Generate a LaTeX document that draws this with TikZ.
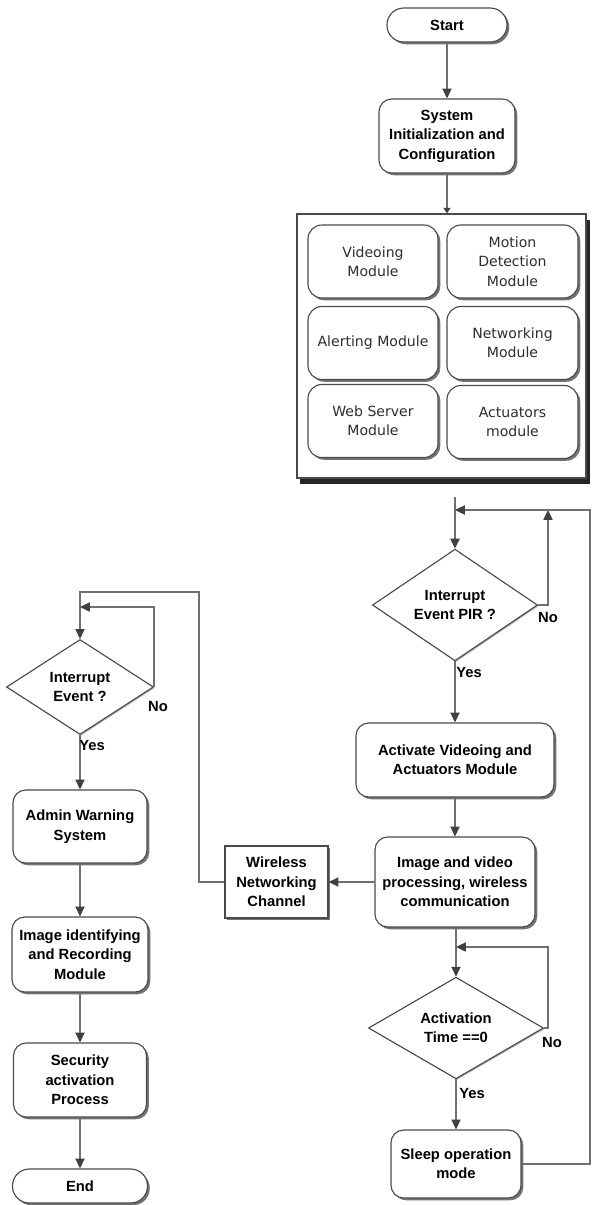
\documentclass[tikz,border=0pt]{standalone}
\usepackage{fontspec}
\setmainfont{Liberation Sans}
\newfontfamily\modfont{DejaVu Sans}
\usetikzlibrary{shapes.geometric,arrows.meta,shadows}
\definecolor{boxline}{HTML}{4A4A4A}
\definecolor{linegray}{HTML}{707070}
\definecolor{tipgray}{HTML}{404040}
\definecolor{modtext}{HTML}{2E2E2E}
\tikzset{
  base/.style={draw=boxline, line width=0.8pt, fill=white, align=center, inner sep=2pt,
    font=\fontsize{10.5}{13.8}\selectfont\bfseries,
    drop shadow={shadow xshift=1.6pt, shadow yshift=-1.6pt, opacity=0.55, fill=black}},
  procbox/.style={base, rounded corners=0.32cm},
  pill/.style={base, rounded corners=0.42cm},
  plainbox/.style={base},
  decision/.style={draw=boxline, line width=0.8pt, fill=white, align=center, diamond, inner sep=0pt,
    font=\fontsize{10.5}{13.8}\selectfont\bfseries,
    drop shadow={shadow xshift=0.8pt, shadow yshift=-0.8pt, opacity=0.3, fill=black}},
  modbox/.style={base, rounded corners=0.35cm, minimum width=3.25cm, minimum height=1.825cm,
    font=\fontsize{10}{13.8}\selectfont\modfont, text=modtext},
  holder/.style={draw=boxline, line width=0.8pt, fill=white,
    drop shadow={shadow xshift=2.5pt, shadow yshift=-4pt, opacity=0.85, fill=black}},
  conn/.style={draw=linegray, line width=1pt},
  arr/.style={conn, -{Triangle[length=7pt,width=6.5pt,color=tipgray]}},
  lbl/.style={font=\fontsize{10.5}{12}\selectfont\bfseries, inner sep=0pt}
}
\begin{document}
\begin{tikzpicture}[x=0.025cm, y=-0.025cm]
\path[use as bounding box, clip] (0,0) rectangle (593,1205);
\fill[white] (0,0) rectangle (593,1205);

% top
\node[pill, minimum width=3.0cm, minimum height=0.85cm] (start) at (447,25) {Start};
\node[procbox, minimum width=3.4cm, minimum height=1.85cm] (init) at (447,136) {System\\Initialization and\\Configuration};
\node[holder, minimum width=7.225cm, minimum height=6.6cm] (modules) at (441.5,346) {};
\node[modbox] (m1) at (373,261.5) {Videoing\\Module};
\node[modbox, minimum width=3.275cm] (m2) at (512.5,261.5) {Motion\\Detection\\Module};
\node[modbox] (m3) at (373,343) {Alerting Module};
\node[modbox, minimum width=3.275cm] (m4) at (512.5,343) {Networking\\Module};
\node[modbox] (m5) at (373,421) {Web Server\\Module};
\node[modbox, minimum width=3.275cm] (m6) at (512.5,422) {Actuators\\module};

\draw[arr] (start) -- (init);
\draw[conn, -{Triangle[length=4pt,width=5pt,color=tipgray]}] (init.south) -- (init.south |- modules.north);

% right column
\node[decision, minimum width=4.125cm, minimum height=2.75cm] (pir) at (455,605) {Interrupt\\Event PIR ?};
\node[procbox, minimum width=4.95cm, minimum height=1.85cm] (activ) at (455,760) {Activate Videoing and\\Actuators Module};
\node[procbox, minimum width=4.0cm, minimum height=2.25cm] (proc) at (455,882) {Image and video\\processing, wireless\\communication};
\node[decision, minimum width=4.375cm, minimum height=2.425cm] (atime) at (456,1028) {Activation\\Time ==0};
\node[procbox, minimum width=3.25cm, minimum height=1.7cm] (sleep) at (456,1164) {Sleep operation\\mode};
\node[plainbox, minimum width=2.575cm, minimum height=1.8cm] (wire) at (276.5,882) {Wireless\\Networking\\Channel};

\coordinate (pirIn) at (455,497);
\coordinate (pirJ) at (455,510);
\coordinate (pirNo) at (548,510);
\coordinate (outer) at (590,510);
\draw[conn] (pirIn) -- (pirJ);
\draw[arr] (pirJ) -- (pir.north);
\draw[arr] (pir.east) -| (pirNo);
\draw[arr] (sleep.east) -| (outer) -- (pirJ);
\draw[arr] (pir.south) -- (activ.north);
\draw[arr] (activ.south) -- (proc.north);
\draw[arr] (proc.west) -- (wire.east);

\coordinate (atJ) at (456,947);
\coordinate (atC) at (548,947);
\draw[arr] (proc.south -| atime.north) -- (atime.north);
\draw[arr] (atime.east) -| (atC) -- (atJ);
\draw[arr] (atime.south) -- (sleep.north);

\node[lbl] (lno1) at (548,617) {No};
\node[lbl] (lyes1) at (469,672) {Yes};
\node[lbl] (lno3) at (552,1042) {No};
\node[lbl] (lyes3) at (472,1093) {Yes};

% left column
\node[decision, minimum width=3.675cm, minimum height=2.375cm] (ie) at (80,687) {Interrupt\\Event ?};
\node[procbox, minimum width=3.35cm, minimum height=1.825cm] (admin) at (80,826.5) {Admin Warning\\System};
\node[procbox, minimum width=3.4cm, minimum height=1.875cm] (imgid) at (80,954.5) {Image identifying\\and Recording\\Module};
\node[procbox, minimum width=3.325cm, minimum height=1.85cm] (secu) at (80,1080) {Security\\activation\\Process};
\node[pill, minimum width=3.375cm, minimum height=0.85cm] (end) at (80,1186) {End};

\coordinate (wl) at (199,592);
\coordinate (ieJ) at (80,607);
\draw[arr] (wire.west) -| (wl) -| (ie.north);
\draw[arr] (ie.east) |- (ieJ);
\draw[arr] (ie.south) -- (admin.north);
\draw[arr] (admin.south) -- (imgid.north);
\draw[arr] (imgid.south) -- (secu.north);
\draw[arr] (secu.south) -- (end.north);

\node[lbl] (lno2) at (158,706) {No};
\node[lbl] (lyes2) at (92,745) {Yes};
\end{tikzpicture}
\end{document}
